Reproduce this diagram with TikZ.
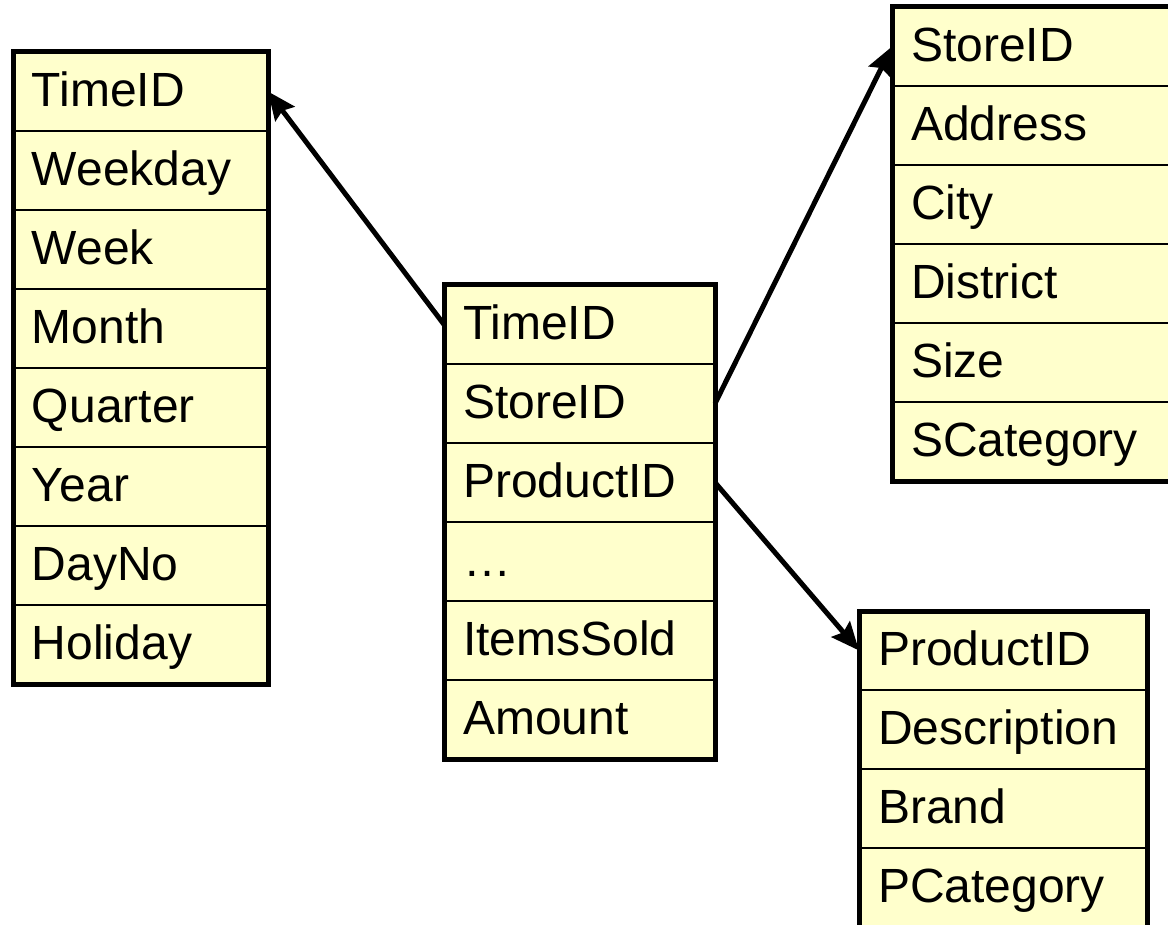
\documentclass[tikz,border=0pt]{standalone}
\usepackage{fontspec}
\setmainfont{Liberation Sans}
\usetikzlibrary{positioning,arrows.meta}
\definecolor{fieldfill}{HTML}{FFFFCC}
\tikzset{
  field/.style = {rectangle, draw=black, line width=1pt, fill=fieldfill,
                  text width=#1, align=left, minimum height=39.5pt,
                  inner xsep=9.5pt, inner ysep=0pt, outer sep=0pt,
                  text height=17pt, text depth=2pt,
                  font=\fontsize{24}{28}\selectfont},
  field/.default = 108.5pt,
  tblframe/.style = {draw=black, line width=2.5pt},
  fkey/.style = {draw=black, line width=2.5pt,
                 -{Stealth[length=14pt,width=12pt,inset=2pt]}}
}

\begin{document}
\begin{tikzpicture}[x=0.5pt,y=-0.5pt]
	\clip (0,0) rectangle (1168,925);

	% Time
	\node[field, anchor=north west] (time1) at (13,52) {TimeID};
	\node[field, below=0pt of time1] (time2) {Weekday};
	\node[field, below=0pt of time2] (time3) {Week};
	\node[field, below=0pt of time3] (time4) {Month};
	\node[field, below=0pt of time4] (time5) {Quarter};
	\node[field, below=0pt of time5] (time6) {Year};
	\node[field, below=0pt of time6] (time7) {DayNo};
	\node[field, below=0pt of time7] (time8) {Holiday};
	\draw[tblframe] (time1.north west) rectangle (time8.south east);

	% Sales (facts)
	\node[field=116.5pt, anchor=north west] (sale1) at (444,285) {TimeID};
	\node[field=116.5pt, below=0pt of sale1] (sale2) {StoreID};
	\node[field=116.5pt, below=0pt of sale2] (sale3) {ProductID};
	\node[field=116.5pt, below=0pt of sale3] (sale4) {…};
	\node[field=116.5pt, below=0pt of sale4] (sale5) {ItemsSold};
	\node[field=116.5pt, below=0pt of sale5] (sale6) {Amount};
	\draw[tblframe] (sale1.north west) rectangle (sale6.south east);

	% Store
	\node[field=126pt, anchor=north west] (store1) at (892,7) {StoreID};
	\node[field=126pt, below=0pt of store1] (store2) {Address};
	\node[field=126pt, below=0pt of store2] (store3) {City};
	\node[field=126pt, below=0pt of store3] (store4) {District};
	\node[field=126pt, below=0pt of store4] (store5) {Size};
	\node[field=126pt, below=0pt of store5] (store6) {SCategory};
	\draw[tblframe] (store1.north west) rectangle (store6.south east);

	% Product
	\node[field=125pt, anchor=north west] (prod1) at (859,611) {ProductID};
	\node[field=125pt, below=0pt of prod1] (prod2) {Description};
	\node[field=125pt, below=0pt of prod2] (prod3) {Brand};
	\node[field=125pt, below=0pt of prod3] (prod4) {PCategory};
	\draw[tblframe] (prod1.north west) rectangle (prod4.south east);

	% Foreign keys
	\draw[fkey] (sale1.west) -- (time1.east);
	\draw[fkey] (sale2.east) -- (store1.west);
	\draw[fkey] (sale3.east) -- (prod1.west);
\end{tikzpicture}
\end{document}
